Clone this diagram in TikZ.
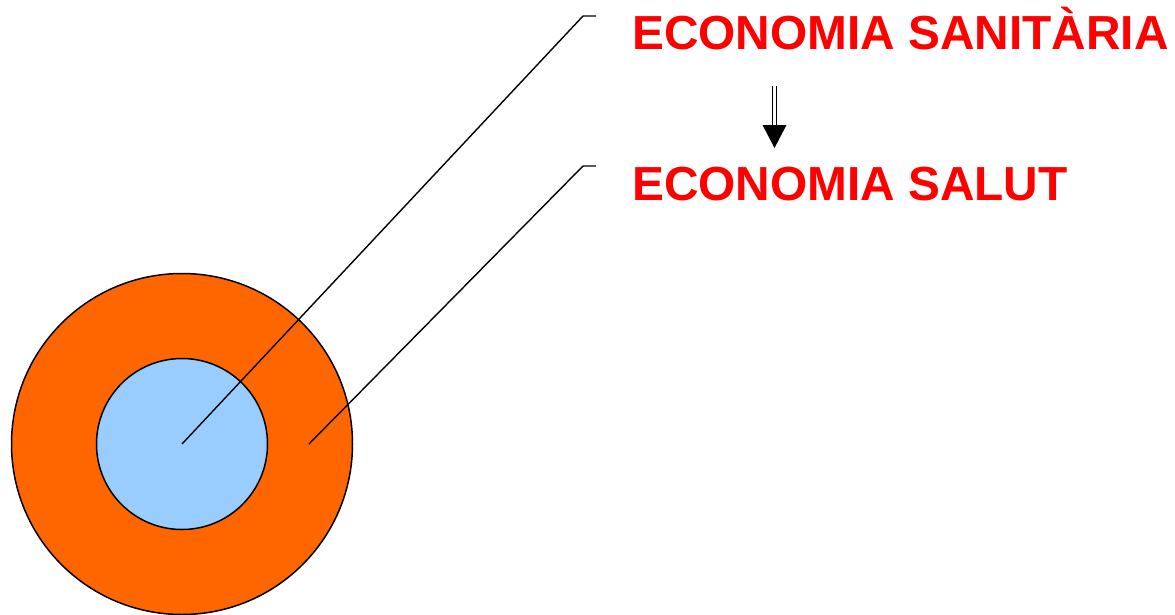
\documentclass[tikz,border=0pt]{standalone}
\usepackage{fontspec}
\setmainfont{Liberation Sans}
\usetikzlibrary{arrows.meta}
\definecolor{ringorange}{HTML}{FF6600}
\definecolor{coreblue}{HTML}{99CCFF}
\definecolor{labelred}{HTML}{FF0000}
\begin{document}
\begin{tikzpicture}[x=1pt,y=-1pt,
  lbl/.style={anchor=base west,inner sep=0pt,text=labelred,font=\bfseries\fontsize{47.8}{50}\selectfont},
  leader/.style={draw=black,line width=1.4pt},
  disc/.style={draw=black,line width=1.5pt}]
\useasboundingbox (0,0) rectangle (1175,614);
\node[circle,disc,fill=ringorange,minimum size=341pt,inner sep=0pt] (outer) at (182,444) {};
\node[circle,disc,fill=coreblue,minimum size=171pt,inner sep=0pt] (inner) at (182,444) {};
\node[lbl] (san) at (632,49) {ECONOMIA SANITÀRIA};
\node[lbl] (sal) at (632,200) {ECONOMIA SALUT};
\coordinate (c1) at (182,444);
\coordinate (c2) at (309,444);
\coordinate (k1) at (583,16);
\coordinate (k2) at (583,166);
\coordinate (e1) at (596,16);
\coordinate (e2) at (596,166);
\draw[leader] (c1) -- (k1) -- (e1);
\draw[leader] (c2) -- (k2) -- (e2);
\coordinate (as) at (774.5,86);
\coordinate (am) at (774.5,126);
\coordinate (ae) at (774.5,148);
\draw[double=white,double distance=2.5pt,line width=1.2pt] (as) -- (am);
\fill[black] (762.5,125) -- (786.5,125) -- (ae) -- cycle;
\end{tikzpicture}
\end{document}
